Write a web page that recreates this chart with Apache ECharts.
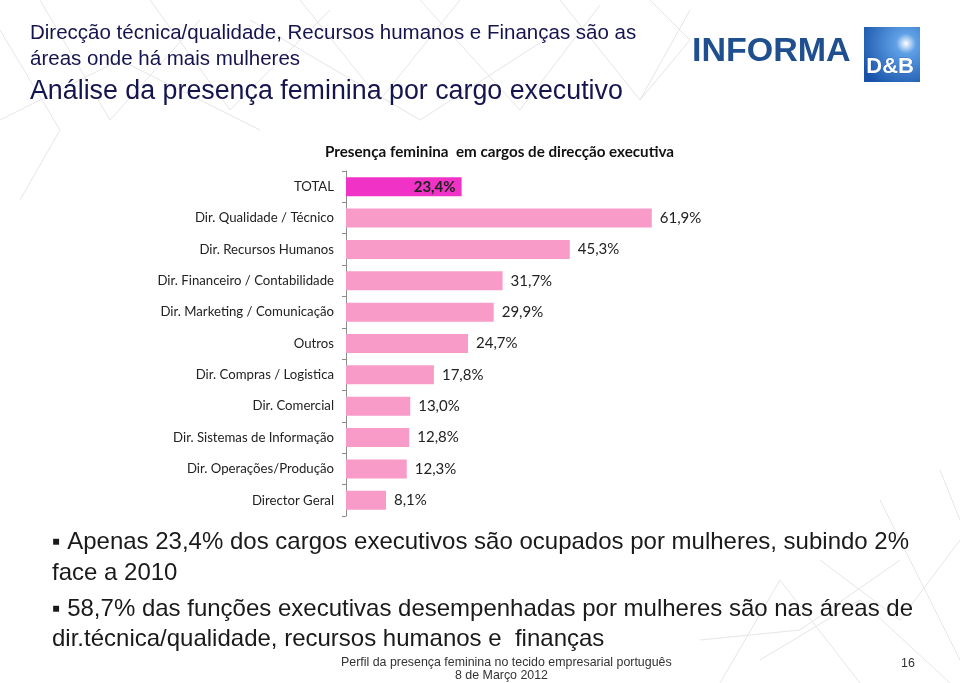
<!DOCTYPE html>
<html>
<head>
<meta charset="utf-8">
<script src="https://cdn.jsdelivr.net/npm/echarts@6/dist/echarts.min.js"></script>
<style>
html,body{margin:0;padding:0;background:#fff;}
#c{width:960px;height:683px;}
</style>
</head>
<body>
<div id="c"></div>
<script>
const categories = [
  'TOTAL',
  'Dir. Qualidade / Técnico',
  'Dir. Recursos Humanos',
  'Dir. Financeiro / Contabilidade',
  'Dir. Marketing / Comunicação',
  'Outros',
  'Dir. Compras / Logistica',
  'Dir. Comercial',
  'Dir. Sistemas de Informação',
  'Dir. Operações/Produção',
  'Director Geral'
];
const values = [23.4, 61.9, 45.3, 31.7, 29.9, 24.7, 17.8, 13.0, 12.8, 12.3, 8.1];
const chartTitle = 'Presença feminina  em cargos de direcção executiva';
const slideTitle1 = 'Direcção técnica/qualidade, Recursos humanos e Finanças são as';
const slideTitle2 = 'áreas onde há mais mulheres';
const slideTitle3 = 'Análise da presença feminina por cargo executivo';
const bullet1a = '\u25AA Apenas 23,4% dos cargos executivos são ocupados por mulheres, subindo 2%';
const bullet1b = 'face a 2010';
const bullet2a = '\u25AA 58,7% das funções executivas desempenhadas por mulheres são nas áreas de';
const bullet2b = 'dir.técnica/qualidade, recursos humanos e  finanças';
const footer1 = 'Perfil da presença feminina no tecido empresarial português';
const footer2 = '8 de Março 2012';
const pageNum = '16';

const fmt = v => v.toFixed(1).replace('.', ',') + '%';

const barData = values.map((v, i) => i === 0 ? {
  value: v,
  itemStyle: { color: '#F033C6' },
  label: { position: 'insideRight', distance: 6, fontWeight: 'bold', color: '#222' }
} : { value: v });

const chart = echarts.init(document.getElementById('c'), null, { renderer: 'canvas' });

const titleFont = '"Liberation Sans", Arial, sans-serif';
const bodyFont = '"Liberation Sans", Arial, sans-serif';
const chartFont = 'Lato, "Open Sans", sans-serif';

// faint decorative background network lines
const bgLines = [
  [[0,30],[60,130],[20,200]], [[40,0],[110,120],[200,20]], [[150,0],[230,110],[330,10]],
  [[300,0],[380,100],[460,0]], [[420,0],[520,110],[600,5]], [[560,0],[640,100],[690,10]],
  [[0,120],[120,60],[260,130]], [[250,20],[420,120],[560,30]], [[640,100],[690,40],[650,0]],
  [[720,683],[780,580],[860,683]], [[820,560],[900,620],[960,540]], [[760,660],[860,600],[950,683]],
  [[880,500],[930,600],[960,660]], [[700,640],[800,630],[900,560]], [[940,470],[960,520]]
];
const bgGraphics = bgLines.map(pts => ({
  type: 'polyline', silent: true, z: -1,
  shape: { points: pts },
  style: { stroke: '#e6e6ea', lineWidth: 1, fill: null }
}));

chart.setOption({
  backgroundColor: '#ffffff',
  animation: false,
  grid: { left: 346, top: 171, width: 494, height: 345, containLabel: false },
  xAxis: {
    type: 'value', min: 0, max: 100,
    show: false
  },
  yAxis: {
    type: 'category',
    data: categories,
    inverse: true,
    axisLine: { show: true, lineStyle: { color: '#8c8c8c', width: 1 } },
    axisTick: { show: true, length: 4, lineStyle: { color: '#8c8c8c' } },
    axisLabel: { color: '#222', fontSize: 13.2, fontFamily: chartFont, margin: 12 }
  },
  series: [{
    type: 'bar',
    data: barData,
    barWidth: 19,
    itemStyle: { color: '#F99BC9' },
    label: {
      show: true, position: 'right', distance: 8,
      formatter: p => fmt(p.value),
      fontSize: 15, fontFamily: chartFont, color: '#222'
    }
  }],
  graphic: bgGraphics.concat([
    { type: 'text', left: 325, top: 145, style: { text: chartTitle, font: 'bold 15.2px ' + chartFont, fill: '#111' }, z: 10 },
    { type: 'text', left: 30, top: 23, style: { text: slideTitle1, font: '20.5px ' + titleFont, fill: '#14144e' } },
    { type: 'text', left: 30, top: 49, style: { text: slideTitle2, font: '20.5px ' + titleFont, fill: '#14144e' } },
    { type: 'text', left: 30, top: 78, style: { text: slideTitle3, font: '26.8px ' + titleFont, fill: '#14144e' } },
    { type: 'text', left: 52, top: 530, style: { text: bullet1a, font: '24px ' + bodyFont, fill: '#1a1a1a' } },
    { type: 'text', left: 52, top: 561, style: { text: bullet1b, font: '24px ' + bodyFont, fill: '#1a1a1a' } },
    { type: 'text', left: 52, top: 597, style: { text: bullet2a, font: '24px ' + bodyFont, fill: '#1a1a1a' } },
    { type: 'text', left: 52, top: 627, style: { text: bullet2b, font: '24px ' + bodyFont, fill: '#1a1a1a' } },
    { type: 'text', left: 341, top: 657, style: { text: footer1, font: '12.4px ' + bodyFont, fill: '#333' } },
    { type: 'text', left: 455, top: 670, style: { text: footer2, font: '12.4px ' + bodyFont, fill: '#333' } },
    { type: 'text', left: 901, top: 658, style: { text: pageNum, font: '12.4px ' + bodyFont, fill: '#333' } },
    { type: 'text', left: 692, top: 35, style: { text: 'INFORMA', font: 'bold 34px ' + titleFont, fill: '#1f4f8f' } },
    { type: 'rect', left: 864, top: 27, shape: { width: 56, height: 55 },
      style: { fill: { type: 'radial', x: 0.75, y: 0.3, r: 0.9, colorStops: [{ offset: 0, color: '#ffffff' }, { offset: 0.2, color: '#5fa0e6' }, { offset: 1, color: '#1752a8' }] } } },
    { type: 'text', left: 866, top: 56, style: { text: 'D&B', font: 'bold 22px ' + titleFont, fill: '#ffffff', stroke: '#1752a8', lineWidth: 0.5 } }
  ])
});
</script>
</body>
</html>
